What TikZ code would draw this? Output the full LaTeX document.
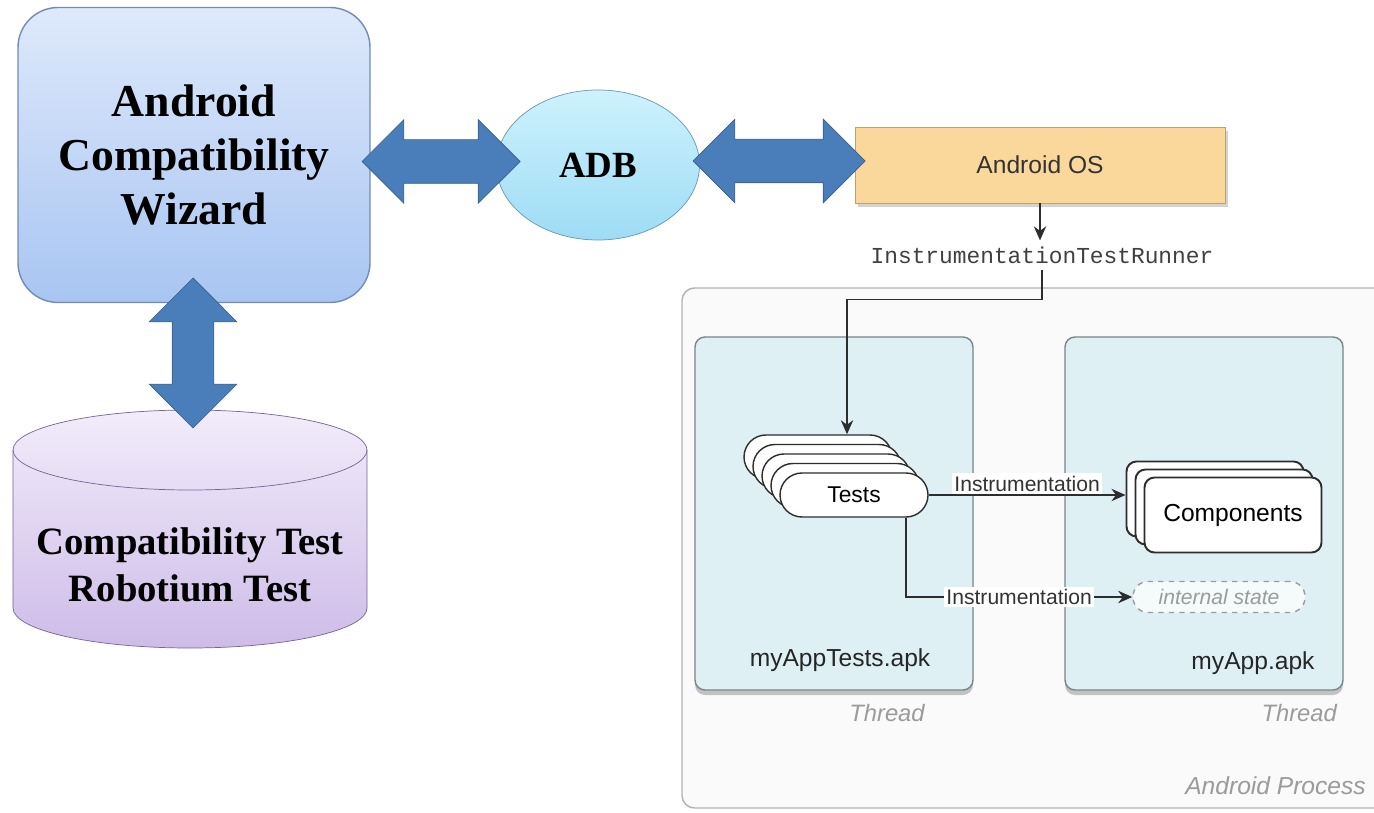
\documentclass[tikz,border=0pt]{standalone}
\usepackage{fontspec}
\setmainfont{Liberation Serif}
\setsansfont{Liberation Sans}
\setmonofont{Liberation Mono}
\usetikzlibrary{calc,shapes.geometric,shapes.arrows,shadows,arrows.meta}

\definecolor{wiztop}{RGB}{222,233,251}
\definecolor{wizbot}{RGB}{168,197,242}
\definecolor{wizline}{RGB}{112,140,182}
\definecolor{adbtop}{RGB}{205,242,253}
\definecolor{adbbot}{RGB}{158,220,245}
\definecolor{adbline}{RGB}{105,150,178}
\definecolor{arrfill}{RGB}{74,126,187}
\definecolor{arrline}{RGB}{56,93,138}
\definecolor{dbtop}{RGB}{242,236,250}
\definecolor{dbbot}{RGB}{206,188,232}
\definecolor{dbline}{RGB}{118,100,148}
\definecolor{osfill}{RGB}{250,216,155}
\definecolor{osline}{RGB}{196,160,104}
\definecolor{thrfill}{RGB}{222,240,243}
\definecolor{thrline}{RGB}{118,134,138}
\definecolor{procline}{RGB}{178,178,178}
\definecolor{flowcol}{RGB}{45,45,45}
\definecolor{greytext}{RGB}{155,155,155}

\tikzstyle{wizbox} = [draw=wizline, thick, rounded corners=0.8cm, top color=wiztop, bottom color=wizbot, minimum width=7.04cm, minimum height=5.9cm, align=center, font=\fontsize{26}{31}\selectfont\bfseries]
\tikzstyle{adbnode} = [ellipse, draw=adbline, top color=adbtop, bottom color=adbbot, minimum width=4.06cm, minimum height=3cm, inner sep=0pt, font=\fontsize{21}{25}\selectfont\bfseries]
\tikzstyle{bigarrow} = [double arrow, draw=arrline, fill=arrfill, inner xsep=0pt, inner ysep=0.43cm, double arrow head extend=0.4cm]
\tikzstyle{dbshape} = [draw=dbline, top color=dbtop, bottom color=dbbot]
\tikzstyle{osbox} = [draw=osline, fill=osfill, minimum width=7.4cm, minimum height=1.52cm, text=black!80, font=\sffamily\fontsize{14}{16}\selectfont, drop shadow={opacity=0.35, shadow xshift=0.05cm, shadow yshift=-0.09cm}]
\tikzstyle{procbox} = [draw=procline, thick, fill=white!98!black, rounded corners=0.25cm, minimum width=14.16cm, minimum height=10.4cm]
\tikzstyle{thrbox} = [draw=thrline, thick, fill=thrfill, rounded corners=0.2cm, minimum width=5.56cm, minimum height=7.06cm, drop shadow={opacity=0.45, shadow xshift=0cm, shadow yshift=-0.1cm}]
\tikzstyle{card} = [draw=flowcol, thick, fill=white, rounded corners=0.44cm, minimum width=2.96cm, minimum height=0.88cm, font=\sffamily\fontsize{13}{15}\selectfont]
\tikzstyle{compcard} = [draw=flowcol, line width=1.1pt, fill=white, rounded corners=0.2cm, minimum width=3.54cm, minimum height=1.5cm, font=\sffamily\fontsize{14}{16}\selectfont]
\tikzstyle{statebox} = [draw=greytext, thick, dashed, fill=white!70!thrfill, rounded corners=0.3cm, minimum width=3.44cm, minimum height=0.62cm, text=greytext, font=\sffamily\itshape\fontsize{12}{14}\selectfont]
\tikzstyle{flow} = [draw=flowcol, line width=1pt, -{Stealth[length=8pt,width=7pt]}]
\tikzstyle{lbl} = [fill=white, inner sep=1.5pt, text=black!80, font=\sffamily\fontsize{12}{14}\selectfont]
\tikzstyle{apk} = [text=black!85, font=\sffamily\fontsize{14}{16}\selectfont]
\tikzstyle{grey} = [text=greytext, font=\sffamily\itshape\fontsize{13.5}{16}\selectfont]

\begin{document}
\begin{tikzpicture}
    \useasboundingbox (0,0) rectangle (27.48,-16.26);
    \clip (0,0) rectangle (27.48,-16.26);

    % left side: wizard, adb, test database
    \draw (3.88,-3.10) node[wizbox] (wiz) {Android\\Compatibility\\Wizard};
    \draw (11.96,-3.30) node[adbnode] (adb) {ADB};
    \draw[dbshape] (0.26,-9.00) -- (0.26,-12.16) arc[start angle=180, end angle=360, x radius=3.54cm, y radius=0.8cm]
        -- (7.34,-9.00) arc[start angle=0, end angle=180, x radius=3.54cm, y radius=0.8cm] -- cycle;
    \draw[dbline] (0.26,-9.00) arc[start angle=180, end angle=360, x radius=3.54cm, y radius=0.8cm];
    \draw (3.80,-11.30) node[align=center, font=\fontsize{22}{27}\selectfont\bfseries] (db) {Compatibility Test\\Robotium Test};

    % right side: android process
    \draw (20.72,-10.96) node[procbox] (proc) {};
    \draw (16.68,-10.27) node[thrbox] (thr1) {};
    \draw (24.08,-10.27) node[thrbox] (thr2) {};
    \draw (20.80,-3.30) node[osbox] (os) {Android OS};
    \draw (20.84,-5.10) node[text=black!75, font=\ttfamily\fontsize{13}{15}\selectfont] (runner) {InstrumentationTestRunner};

    % block arrows
    \draw (8.82,-3.23) node[bigarrow, minimum height=3.16cm] (a1) {};
    \draw (15.58,-3.22) node[bigarrow, minimum height=3.44cm] (a2) {};
    \draw (3.86,-7.06) node[bigarrow, rotate=90, minimum height=3.0cm, inner ysep=0.41cm, double arrow head extend=0.46cm] (a3) {};

    % stacks
    \foreach \k in {4,3,2,1}
        \draw (17.08,-9.90) ++(-0.18*\k,0.19*\k) node[card] (tk\k) {};
    \draw (17.08,-9.90) node[card] (tests) {Tests};
    \foreach \k in {2,1}
        \draw (24.66,-10.30) ++(-0.18*\k,0.16*\k) node[compcard] (cp\k) {};
    \draw (24.66,-10.30) node[compcard] (comp) {Components};
    \draw (24.38,-11.94) node[statebox] (istate) {internal state};

    \draw[flow] (os.south) -- (os.south |- runner.north);
    \draw[flow] (runner.south) -- ++(0,-0.6) -| ([xshift=0.58cm]tk4.north);
    \draw[flow] (tests.east) -- (tests.east -| cp2.west) node[midway, above, lbl] {Instrumentation};
    \draw[flow] ([xshift=1.04cm]tests.south) |- (istate.west) node[pos=0.75, lbl] {Instrumentation};

    \draw (16.80,-13.20) node[apk] (l1) {myAppTests.apk};
    \draw (25.06,-13.26) node[apk] (l2) {myApp.apk};
    \draw (17.74,-14.26) node[grey] (t1) {Thread};
    \draw (26.86,-14.26) node[grey, anchor=east] (t2) {Thread};
    \draw (27.44,-15.72) node[grey, anchor=east, font=\sffamily\itshape\fontsize{14}{17}\selectfont] (pl) {Android Process};
\end{tikzpicture}
\end{document}
